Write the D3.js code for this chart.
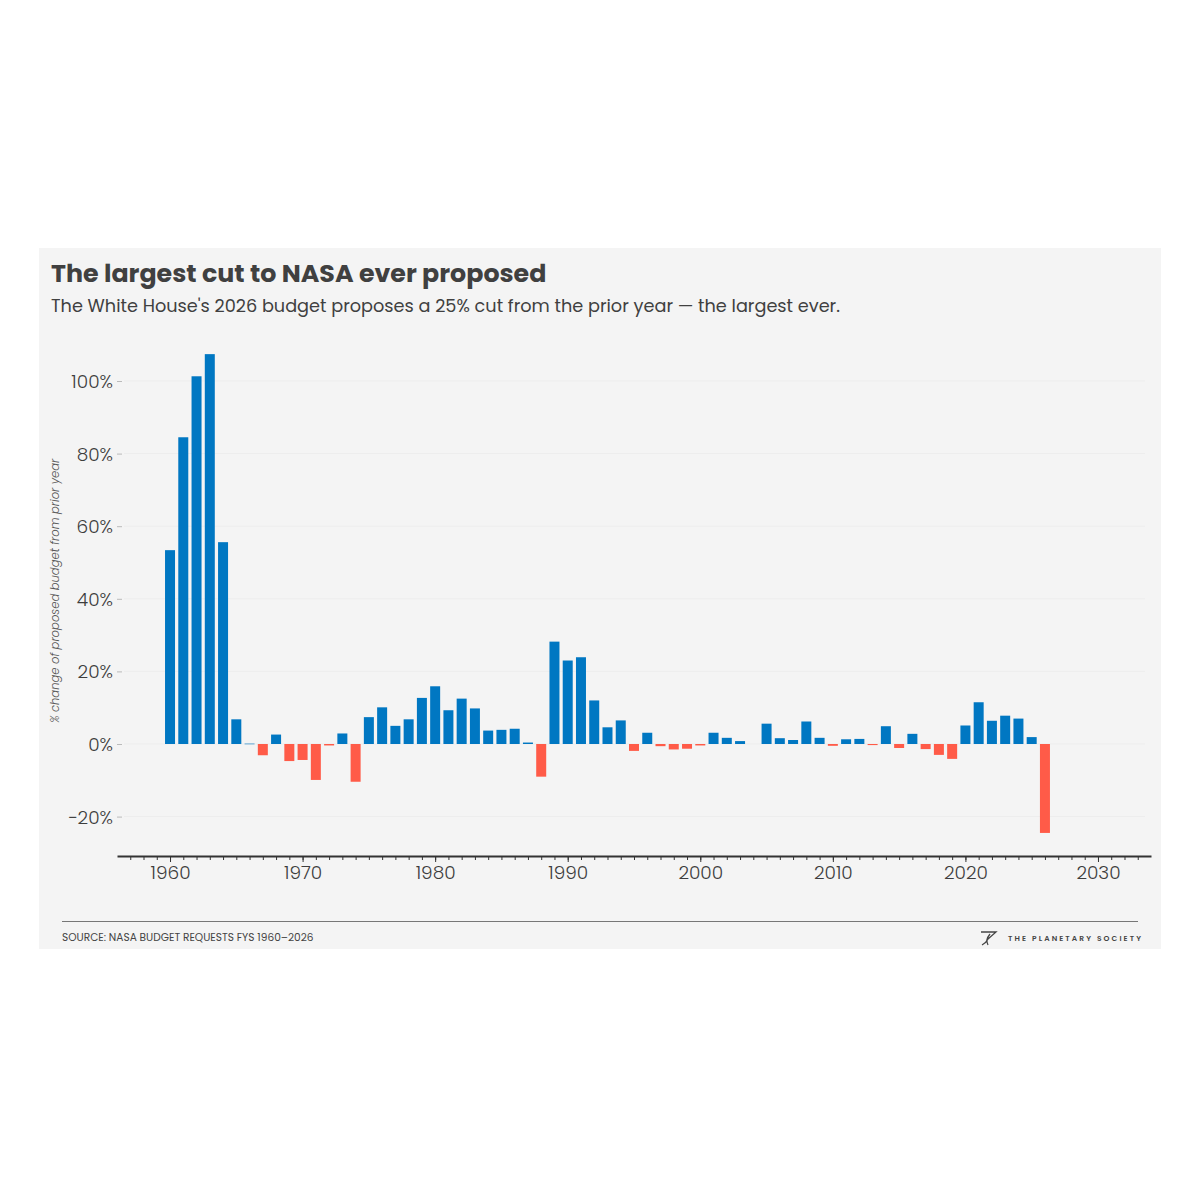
<!DOCTYPE html>
<html>
<head>
<meta charset="utf-8">
<script src="https://cdn.jsdelivr.net/npm/d3@7"></script>
<style>
  html, body { margin: 0; padding: 0; background: #fff; }
  #chart { width: 1200px; height: 1200px; }
  text { font-family: Poppins, "Open Sans", sans-serif; }
</style>
</head>
<body>
<div id="chart"></div>
<script>
// Year-over-year % change in the proposed NASA budget (FY1960-2026)
const years = d3.range(1960, 2027);
const changes = [
  53.4, 84.5, 101.3, 107.4, 55.6, 6.8, 0.1, -3.1, 2.6, -4.7,
  -4.4, -9.9, -0.4, 2.9, -10.4, 7.4, 10.1, 5.0, 6.8, 12.7,
  15.9, 9.3, 12.5, 9.8, 3.7, 3.9, 4.2, 0.4, -9.0, 28.2,
  23.0, 23.9, 12.0, 4.6, 6.5, -1.9, 3.1, -0.6, -1.5, -1.3,
  -0.4, 3.1, 1.7, 0.8, 0, 5.6, 1.6, 1.1, 6.2, 1.7,
  -0.5, 1.3, 1.4, -0.3, 4.9, -1.1, 2.8, -1.4, -3.0, -4.1,
  5.1, 11.5, 6.4, 7.8, 7.0, 1.9, -24.5
];
const yTicks = [-20, 0, 20, 40, 60, 80, 100];
const xTicks = [1960, 1970, 1980, 1990, 2000, 2010, 2020, 2030];

const title = "The largest cut to NASA ever proposed";
const subtitle = "The White House's 2026 budget proposes a 25% cut from the prior year \u2014 the largest ever.";
const yLabel = "% change of proposed budget from prior year";
const source = "SOURCE: NASA BUDGET REQUESTS FYS 1960\u20132026";
const brand = "THE PLANETARY SOCIETY";

const data = years.map((year, i) => ({ year, value: changes[i] }));

const width = 1200, height = 1200;
const panel = { x: 39, y: 248, w: 1122, h: 701 };

const svg = d3.select("#chart")
  .append("svg")
  .attr("width", width)
  .attr("height", height);

svg.append("rect")
  .attr("width", width)
  .attr("height", height)
  .attr("fill", "#fff");

svg.append("rect")
  .attr("x", panel.x)
  .attr("y", panel.y)
  .attr("width", panel.w)
  .attr("height", panel.h)
  .attr("fill", "#f4f4f4");

// title + subtitle
svg.append("text")
  .attr("x", 51)
  .attr("y", 282)
  .attr("fill", "#404040")
  .style("font-size", "25.3px")
  .style("font-weight", "700")
  .text(title);

svg.append("text")
  .attr("x", 51)
  .attr("y", 312)
  .attr("fill", "#404040")
  .style("font-size", "17.7px")
  .text(subtitle);

const x = d3.scaleLinear()
  .domain([1956, 2034])
  .range([117, 1151]);

const y = d3.scaleLinear()
  .domain([-20, 100])
  .range([816.6, 381]);

const barW = 10;

// faint gridlines
svg.append("g")
  .selectAll("line")
  .data(yTicks)
  .join("line")
  .attr("x1", 124)
  .attr("x2", 1145)
  .attr("y1", d => y(d))
  .attr("y2", d => y(d))
  .attr("stroke", "#ededed")
  .attr("stroke-width", 1);

// y axis (no domain line)
const yAxis = svg.append("g")
  .attr("transform", "translate(122,0)")
  .call(d3.axisLeft(y).tickValues(yTicks).tickSize(5).tickPadding(4)
    .tickFormat(d => (d < 0 ? "\u2212" + Math.abs(d) : d) + "%"));
yAxis.select(".domain").remove();
yAxis.selectAll(".tick line").attr("stroke", "#bbb");
yAxis.selectAll(".tick text")
  .attr("fill", "#3d3d3d")
  .style("font-size", "18.5px")
  .style("font-weight", "300")
  .attr("dy", "0.35em");

svg.append("text")
  .attr("transform", `translate(59,${y(40) - 8}) rotate(-90)`)
  .attr("text-anchor", "middle")
  .attr("fill", "#555")
  .style("font-size", "11.6px")
  .style("font-style", "italic")
  .style("font-weight", "300")
  .text(yLabel);

// bars
svg.append("g")
  .selectAll("rect")
  .data(data.filter(d => d.value !== 0))
  .join("rect")
  .attr("x", d => x(d.year) - barW / 2)
  .attr("width", barW)
  .attr("y", d => y(Math.max(0, d.value)))
  .attr("height", d => Math.max(0.6, Math.abs(y(d.value) - y(0))))
  .attr("fill", d => d.value >= 0 ? "#0077c2" : "#ff5b48");

// x axis: minor yearly ticks + labelled decades
const axisY = 856;
const xAxisMinor = svg.append("g")
  .attr("transform", `translate(0,${axisY})`)
  .call(d3.axisBottom(x).tickValues(d3.range(1957, 2034)).tickSize(4).tickFormat(""));
xAxisMinor.select(".domain").remove();
xAxisMinor.selectAll(".tick line").attr("stroke", "#333").attr("stroke-width", 1);

const xAxis = svg.append("g")
  .attr("transform", `translate(0,${axisY})`)
  .call(d3.axisBottom(x).tickValues(xTicks).tickSize(6).tickSizeOuter(0).tickPadding(4)
    .tickFormat(d3.format("d")));
xAxis.select(".domain").attr("stroke", "#333").attr("stroke-width", 2);
xAxis.selectAll(".tick line").attr("stroke", "#333").attr("stroke-width", 1);
xAxis.selectAll(".tick text")
  .attr("fill", "#3d3d3d")
  .style("font-size", "18.5px")
  .style("font-weight", "300");

// footer
svg.append("line")
  .attr("x1", 62)
  .attr("x2", 1138)
  .attr("y1", 921.5)
  .attr("y2", 921.5)
  .attr("stroke", "#777")
  .attr("stroke-width", 1);

svg.append("text")
  .attr("x", 62)
  .attr("y", 941)
  .attr("fill", "#444")
  .style("font-size", "10.6px")
  .text(source);

svg.append("text")
  .attr("x", 1143)
  .attr("y", 941)
  .attr("text-anchor", "end")
  .attr("fill", "#444")
  .style("font-size", "7.5px")
  .style("font-weight", "600")
  .style("letter-spacing", "2.1px")
  .text(brand);

// little swoosh mark next to the brand name
svg.append("path")
  .attr("d", "M981,932 L996,932 L988,939 M988,939 Q986,943 982,945 M990,934 Q985,940 988,945")
  .attr("fill", "none")
  .attr("stroke", "#444")
  .attr("stroke-width", 1.3);
</script>
</body>
</html>
